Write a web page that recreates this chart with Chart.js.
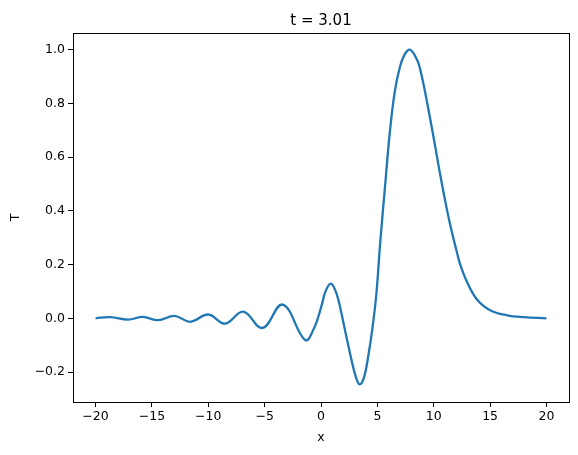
<!DOCTYPE html>
<html>
<head>
<meta charset="utf-8">
<script src="https://cdn.jsdelivr.net/npm/chart.js@4"></script>
<style>
  html, body { margin: 0; padding: 0; background: #fff; }
  #wrap { width: 578px; height: 455px; }
</style>
</head>
<body>
<div id="wrap"><canvas id="waveChart" width="578" height="455"></canvas></div>
<script>
// values
const xs = [-20, -18.7, -17.1, -15.8, -14.45, -13.0, -11.6, -10.0, -8.5, -6.9, -5.2, -3.4, -1.4,
            -0.6, 0.04, 0.4, 0.87, 1.37, 1.82, 2.26, 2.71, 3.09, 3.44, 3.83, 4.18, 4.57, 4.92, 5.25, 5.7,
            6.1, 6.55, 7.0, 7.4, 7.85, 8.3, 8.75, 9.65, 10.55, 11.0, 11.45, 12.0, 12.35, 12.9,
            13.8, 15.0, 16.5, 18.0, 20.0];
const temps = [0.0, 0.004, -0.005, 0.005, -0.007, 0.009, -0.013, 0.014, -0.02, 0.025, -0.036, 0.051, -0.081,
               -0.035, 0.045, 0.1, 0.129, 0.093, 0.017, -0.07, -0.156, -0.218, -0.246, -0.218, -0.144, -0.035, 0.095, 0.28, 0.5,
               0.69, 0.845, 0.935, 0.98, 1.0, 0.98, 0.935, 0.75, 0.54, 0.44, 0.35, 0.255, 0.2, 0.14,
               0.072, 0.03, 0.011, 0.004, 0.0];
const xTicks = [-20, -15, -10, -5, 0, 5, 10, 15, 20];
const yTicks = [-0.2, 0.0, 0.2, 0.4, 0.6, 0.8, 1.0];
const titleText = 't = 3.01';

const fontFamily = '"DejaVu Sans", sans-serif';
const minus = s => s.replace('-', '\u2212');

// frame on all four sides + title centred over the axes, like matplotlib
const framePlugin = {
    id: 'frame',
    afterDraw(chart) {
        const { ctx, chartArea: a } = chart;
        ctx.save();
        ctx.strokeStyle = '#000';
        ctx.lineWidth = 1;
        ctx.strokeRect(Math.round(a.left) + 0.5, Math.round(a.top) + 0.5,
                       Math.round(a.right - a.left), Math.round(a.bottom - a.top));
        ctx.fillStyle = '#000';
        ctx.font = '15px ' + fontFamily;
        ctx.textAlign = 'center';
        ctx.textBaseline = 'alphabetic';
        ctx.fillText(titleText, (a.left + a.right) / 2, a.top - 8);
        ctx.restore();
    }
};

const ctx = document.getElementById('waveChart').getContext('2d');
const chart = new Chart(ctx, {
    type: 'line',
    data: {
        datasets: [{
            label: 'T',
            data: xs.map((x, i) => ({ x: x, y: temps[i] })),
            borderColor: '#1f77b4',
            borderWidth: 2.3,
            pointRadius: 0,
            fill: false,
            tension: 0.4
        }]
    },
    options: {
        responsive: false,
        animation: false,
        layout: { padding: { top: 33, right: 9, left: 0, bottom: 0 } },
        plugins: {
            legend: { display: false },
            tooltip: { enabled: false }
        },
        scales: {
            x: {
                type: 'linear',
                min: -22,
                max: 22,
                afterFit: s => { s.height = 53; },
                afterBuildTicks: s => { s.ticks = xTicks.map(v => ({ value: v })); },
                border: { display: false },
                grid: { drawOnChartArea: false, drawTicks: true, tickLength: 5, tickColor: '#000', tickWidth: 1 },
                ticks: {
                    color: '#000',
                    padding: 2,
                    maxRotation: 0,
                    font: { family: fontFamily, size: 12.5 },
                    callback: v => minus(String(v))
                },
                title: {
                    display: true,
                    text: 'x',
                    color: '#000',
                    font: { family: fontFamily, size: 12.5 },
                    padding: { top: 0, bottom: 10 }
                }
            },
            y: {
                type: 'linear',
                min: -0.3115,
                max: 1.0615,
                afterFit: s => { s.width = 73; },
                afterBuildTicks: s => { s.ticks = yTicks.map(v => ({ value: v })); },
                border: { display: false },
                grid: { drawOnChartArea: false, drawTicks: true, tickLength: 5, tickColor: '#000', tickWidth: 1 },
                ticks: {
                    color: '#000',
                    padding: 3,
                    font: { family: fontFamily, size: 12.5 },
                    callback: v => minus(v.toFixed(1))
                },
                title: {
                    display: true,
                    text: 'T',
                    color: '#000',
                    font: { family: fontFamily, size: 12.5 },
                    padding: { top: 8, bottom: 0 }
                }
            }
        }
    },
    plugins: [framePlugin]
});
</script>
</body>
</html>
